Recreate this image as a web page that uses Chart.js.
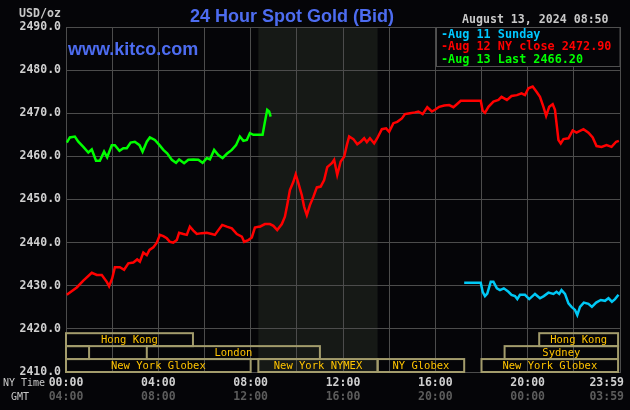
<!DOCTYPE html>
<html>
<head>
<meta charset="utf-8">
<script src="https://cdn.jsdelivr.net/npm/chart.js@4.4.1/dist/chart.umd.min.js"></script>
<style>
  html, body { margin: 0; padding: 0; background: #050508; }
  #wrap { width: 630px; height: 410px; }
</style>
</head>
<body>
<div id="wrap"><canvas id="gold" width="630" height="410"></canvas></div>
<script>
// times are minutes after 00:00 NY time
const sundayTimes = [1035, 1078, 1083, 1089, 1095, 1104, 1111, 1120, 1128, 1138, 1150, 1158, 1167, 1173, 1180, 1193, 1204, 1219, 1232, 1242, 1254, 1267, 1275, 1282, 1288, 1297, 1306, 1314, 1323, 1329, 1336, 1346, 1358, 1367, 1378, 1390, 1401, 1410, 1419, 1427, 1436];
const sundayPrices = [2430.7, 2430.7, 2428.6, 2427.6, 2428.2, 2430.9, 2430.9, 2429.4, 2429.0, 2429.4, 2428.6, 2427.9, 2427.6, 2426.9, 2427.9, 2427.9, 2426.9, 2428.1, 2427.1, 2427.6, 2428.4, 2428.1, 2428.6, 2428.1, 2429.0, 2428.1, 2425.9, 2425.1, 2424.4, 2423.2, 2425.1, 2426.1, 2425.8, 2425.1, 2426.1, 2426.7, 2426.5, 2427.1, 2426.3, 2426.9, 2427.9];

const closeTimes = [2, 28, 45, 67, 80, 93, 106, 112, 120, 127, 140, 151, 162, 175, 185, 192, 201, 210, 217, 227, 236, 244, 253, 262, 270, 279, 288, 294, 305, 314, 322, 331, 340, 353, 366, 379, 387, 396, 406, 418, 431, 444, 457, 463, 474, 483, 491, 500, 504, 517, 530, 539, 549, 561, 569, 575, 582, 591, 597, 604, 613, 619, 626, 634, 643, 652, 662, 671, 679, 691, 697, 705, 714, 723, 730, 736, 747, 757, 766, 775, 782, 790, 801, 809, 821, 832, 840, 851, 861, 873, 881, 894, 907, 916, 927, 939, 951, 959, 970, 983, 996, 1007, 1016, 1026, 1078, 1083, 1089, 1098, 1111, 1124, 1132, 1146, 1158, 1172, 1184, 1193, 1202, 1213, 1223, 1232, 1241, 1248, 1256, 1265, 1271, 1276, 1280, 1286, 1293, 1306, 1317, 1327, 1345, 1358, 1369, 1379, 1392, 1405, 1418, 1430, 1437];
const closePrices = [2427.9, 2429.6, 2431.2, 2433.0, 2432.5, 2432.5, 2430.9, 2429.9, 2431.7, 2434.3, 2434.3, 2433.7, 2435.2, 2435.4, 2436.1, 2435.6, 2437.7, 2437.1, 2438.3, 2438.9, 2440.0, 2441.8, 2441.5, 2441.0, 2440.2, 2440.0, 2440.6, 2442.3, 2442.0, 2441.8, 2443.7, 2442.8, 2442.0, 2442.2, 2442.3, 2442.0, 2441.8, 2442.9, 2444.1, 2443.7, 2443.3, 2442.0, 2441.4, 2440.2, 2440.6, 2441.2, 2443.5, 2443.7, 2443.7, 2444.3, 2444.3, 2443.9, 2442.9, 2444.3, 2446.0, 2448.7, 2452.2, 2454.1, 2455.8, 2453.8, 2451.0, 2448.3, 2446.4, 2448.7, 2450.6, 2452.8, 2453.0, 2454.5, 2457.5, 2458.4, 2459.2, 2455.7, 2458.8, 2459.9, 2462.6, 2464.6, 2464.0, 2462.8, 2463.4, 2464.2, 2463.3, 2464.2, 2463.0, 2464.2, 2466.3, 2466.5, 2465.7, 2467.7, 2468.0, 2468.8, 2469.8, 2470.0, 2470.2, 2470.4, 2469.8, 2471.4, 2470.4, 2470.8, 2471.5, 2471.8, 2471.9, 2471.4, 2472.1, 2472.9, 2472.9, 2470.6, 2470.1, 2471.5, 2472.7, 2473.1, 2473.8, 2473.1, 2474.0, 2474.2, 2474.6, 2474.2, 2475.8, 2476.2, 2475.0, 2473.8, 2471.5, 2469.4, 2471.5, 2472.1, 2470.8, 2466.9, 2463.8, 2463.0, 2464.0, 2464.2, 2466.0, 2465.5, 2466.3, 2465.5, 2464.4, 2462.4, 2462.2, 2462.6, 2462.2, 2463.4, 2463.6];

const lastTimes = [2, 10, 23, 32, 45, 58, 67, 78, 88, 99, 107, 119, 127, 139, 149, 158, 168, 179, 191, 199, 210, 218, 231, 243, 253, 263, 275, 286, 294, 307, 318, 331, 344, 355, 366, 374, 385, 396, 407, 418, 431, 442, 452, 461, 470, 478, 487, 511, 517, 523, 528, 532];
const lastPrices = [2463.2, 2464.4, 2464.6, 2463.4, 2462.2, 2460.9, 2461.6, 2459.0, 2459.0, 2461.1, 2459.8, 2462.6, 2462.6, 2461.3, 2461.9, 2461.9, 2463.2, 2463.4, 2462.6, 2461.1, 2463.4, 2464.4, 2463.8, 2462.6, 2461.5, 2460.7, 2459.2, 2458.5, 2459.3, 2458.4, 2459.2, 2459.3, 2459.2, 2458.5, 2459.6, 2459.3, 2461.5, 2460.3, 2459.6, 2460.6, 2461.5, 2462.6, 2464.6, 2463.6, 2463.8, 2465.4, 2465.0, 2465.0, 2468.0, 2470.8, 2470.4, 2469.2];

const tickMinutes = [0, 240, 480, 720, 960, 1200, 1439];
const nyTickLabels = ['00:00', '04:00', '08:00', '12:00', '16:00', '20:00', '23:59'];
const gmtTickLabels = ['04:00', '08:00', '12:00', '16:00', '20:00', '00:00', '03:59'];

const legendLabels = ['-Aug 11 Sunday', '-Aug 12 NY close 2472.90', '-Aug 13 Last 2466.20'];

// market sessions: row 0 = top
const sessionNames = ['Hong Kong', 'Hong Kong', '', 'London', 'Sydney', 'New York Globex', 'New York NYMEX', 'NY Globex', 'New York Globex'];
const sessionStart = [0, 1230, 0, 210, 1140, 0, 500, 810, 1080];
const sessionEnd = [330, 1435, 60, 660, 1435, 480, 810, 1035, 1435];
const sessionRow = [0, 0, 1, 1, 1, 2, 2, 2, 2];
const nymexHours = [500, 810];

const mono = '"DejaVu Sans Mono", monospace';

function series(times, prices) {
    return times.map((t, i) => ({ x: t, y: prices[i] }));
}

const chrome = {
    id: 'kitcoChrome',
    beforeDraw(chart) {
        const { ctx, chartArea: a, scales: { x } } = chart;
        ctx.save();
        ctx.fillStyle = '#050508';
        ctx.fillRect(0, 0, chart.width, chart.height);
        const s0 = x.getPixelForValue(nymexHours[0]);
        const s1 = x.getPixelForValue(nymexHours[1]);
        ctx.fillStyle = '#161916';
        ctx.fillRect(s0, a.top, s1 - s0, a.bottom - a.top);
        ctx.restore();
    },
    afterDraw(chart) {
        const { ctx, chartArea: a, scales: { x, y } } = chart;
        ctx.save();

        // session boxes
        const rowTop = [2419, 2416, 2413];
        ctx.lineWidth = 2;
        ctx.strokeStyle = '#a39c6c';
        ctx.font = '10.5px ' + mono;
        ctx.fillStyle = '#ffc400';
        ctx.textAlign = 'center';
        ctx.textBaseline = 'middle';
        sessionNames.forEach((name, i) => {
            const l = x.getPixelForValue(sessionStart[i]);
            const r = x.getPixelForValue(sessionEnd[i]);
            const t = y.getPixelForValue(rowTop[sessionRow[i]]);
            const b = y.getPixelForValue(rowTop[sessionRow[i]] - 3);
            ctx.strokeRect(l, t, r - l, b - t);
            if (name) ctx.fillText(name, (l + r) / 2, (t + b) / 2 + 1);
        });

        // legend box
        ctx.fillStyle = '#050508';
        ctx.fillRect(436, a.top, a.right - 436, 39);
        ctx.lineWidth = 1;
        ctx.strokeStyle = '#505050';
        ctx.strokeRect(436.5, a.top + 0.5, a.right - 436.5, 39);
        const legendColors = ['#00c8ff', '#ff0000', '#00ff00'];
        ctx.font = 'bold 11.8px ' + mono;
        ctx.textAlign = 'left';
        legendLabels.forEach((txt, i) => {
            ctx.fillStyle = legendColors[i];
            ctx.fillText(txt, 441, a.top + 7.5 + i * 12.5);
        });

        // header texts
        ctx.font = 'bold 18px "Liberation Sans", Arial, sans-serif';
        ctx.fillStyle = '#4d6cf0';
        ctx.textBaseline = 'alphabetic';
        ctx.fillText('24 Hour Spot Gold (Bid)', 190, 22);
        ctx.fillText('www.kitco.com', 68, 55);

        ctx.font = 'bold 11.6px ' + mono;
        ctx.fillStyle = '#c8c8c8';
        ctx.textBaseline = 'middle';
        ctx.fillText('August 13, 2024 08:50', 462, 20);
        ctx.textAlign = 'right';
        ctx.fillText('USD/oz', 61, 14);

        // time axis labels
        ctx.font = '10px ' + mono;
        ctx.fillStyle = '#c8c8c8';
        ctx.textAlign = 'left';
        ctx.fillText('NY Time', 3, 383);
        ctx.fillText('GMT', 11, 397);
        ctx.font = 'bold 11.5px ' + mono;
        ctx.textAlign = 'center';
        tickMinutes.forEach((m, i) => {
            const w = ctx.measureText(nyTickLabels[i]).width;
            const cx = Math.min(x.getPixelForValue(m), chart.width - 6 - w / 2);
            ctx.fillStyle = '#d0d0d0';
            ctx.fillText(nyTickLabels[i], cx, 383);
            ctx.fillStyle = '#5c5c5c';
            ctx.fillText(gmtTickLabels[i], cx, 397);
        });
        ctx.restore();
    }
};

const chart = new Chart(document.getElementById('gold'), {
    type: 'line',
    data: {
        datasets: [
            { label: 'Aug 12 NY close', data: series(closeTimes, closePrices), borderColor: '#ff0000' },
            { label: 'Aug 13 Last', data: series(lastTimes, lastPrices), borderColor: '#00ff00' },
            { label: 'Aug 11 Sunday', data: series(sundayTimes, sundayPrices), borderColor: '#00c8f5' }
        ]
    },
    options: {
        responsive: false,
        animation: false,
        parsing: true,
        elements: {
            line: { borderWidth: 2.5, tension: 0 },
            point: { radius: 0 }
        },
        layout: { padding: { top: 27, right: 10, left: 0, bottom: 0 } },
        scales: {
            x: {
                type: 'linear',
                min: 0,
                max: 1440,
                ticks: { display: false, stepSize: 120 },
                grid: { color: '#4c4c4c', drawTicks: false },
                border: { color: '#4c4c4c' },
                afterFit(scale) { scale.height = 38; }
            },
            y: {
                min: 2410,
                max: 2490,
                ticks: {
                    stepSize: 10,
                    padding: 5,
                    color: '#d0d0d0',
                    font: { family: mono, size: 11.5, weight: 'bold' },
                    callback: v => v.toFixed(1)
                },
                grid: { color: '#4c4c4c', drawTicks: false },
                border: { color: '#4c4c4c' },
                afterFit(scale) { scale.width = 66; }
            }
        },
        plugins: {
            legend: { display: false },
            tooltip: { enabled: false }
        }
    },
    plugins: [chrome]
});
</script>
</body>
</html>
